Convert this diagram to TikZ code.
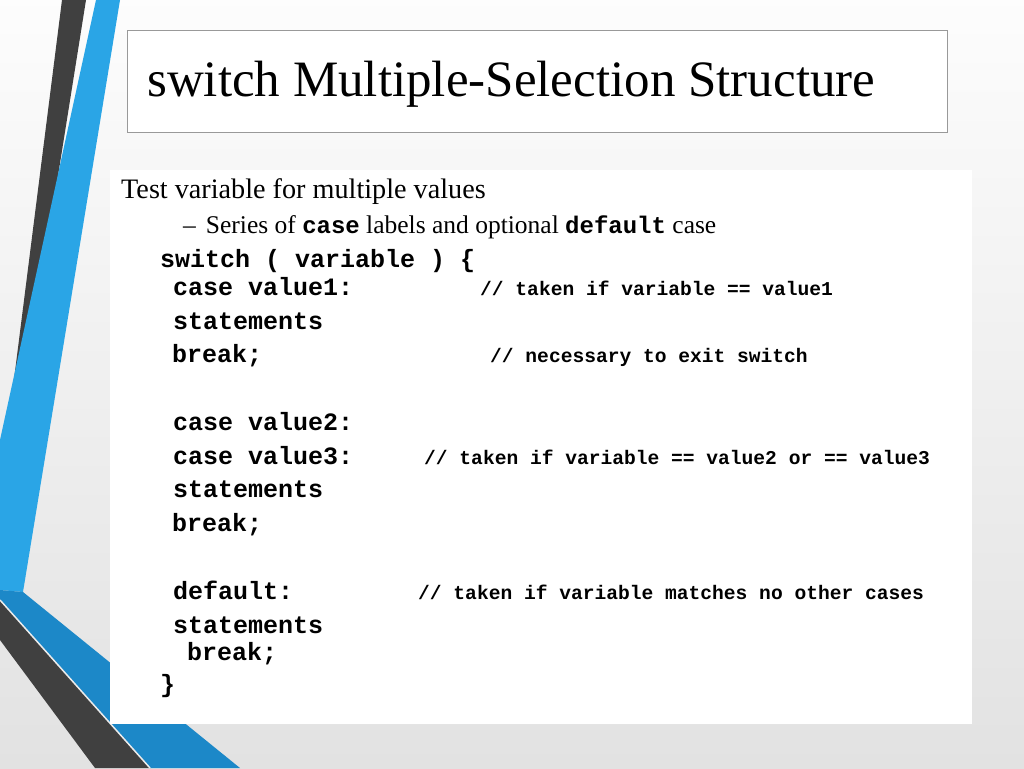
\documentclass[tikz,border=0pt]{standalone}
\usepackage{fontspec}
\setmainfont{Liberation Serif}
\setmonofont{Liberation Mono}
\begin{document}
\begin{tikzpicture}[x=1pt,y=-1pt,
  code/.style={anchor=base west,inner sep=0,font=\fontsize{25}{25}\selectfont\ttfamily\bfseries},
  cmt/.style={anchor=base west,inner sep=0,font=\fontsize{19.6}{20}\selectfont\ttfamily\bfseries},
  txt/.style={anchor=base west,inner sep=0,font=\fontsize{28.2}{28}\selectfont}]
\definecolor{bg}{HTML}{E2E2E2}
\definecolor{dk}{HTML}{404040}
\definecolor{bl}{HTML}{2AA5E6}
\definecolor{bl2}{HTML}{1C88C8}
\useasboundingbox (0,0) rectangle (1024,768);
\shade[top color=white!92!bg,bottom color=bg] (0,0) rectangle (1024,768);
% top stripes
\fill[dk] (62,0) -- (86,0) -- (0,540) -- (0,490) -- cycle;
\fill[bl] (96,0) -- (120,0) -- (23,592) -- (0,590) -- (0,440) -- cycle;
% bottom bands
\fill[bl2] (0,590) -- (23,592) -- (240,768) -- (150,768) -- (0,628) -- cycle;
\fill[dk] (0,600) -- (150,768) -- (95,768) -- (0,640) -- cycle;
\draw[white!85!gray,line width=1.5] (0,600) -- (150,768);
% boxes
\node[draw=gray!80,fill=white,line width=1,minimum width=820,minimum height=102,anchor=north west,inner sep=0] (title) at (127,30) {};
\node[anchor=base west,inner sep=0,font=\fontsize{51}{51}\selectfont] (tt) at (147,96) {switch Multiple-Selection Structure};
\node[fill=white,minimum width=862,minimum height=554,anchor=north west,inner sep=0] (body) at (110,170) {};
\node[txt] (l1) at (121,198) {Test variable for multiple values};
\node[txt,font=\fontsize{25.5}{25}\selectfont] (l2) at (183,233) {–\hspace{10pt}Series of {\ttfamily\bfseries\fontsize{24}{24}\selectfont case} labels and optional {\ttfamily\bfseries\fontsize{24}{24}\selectfont default} case};
\node[code] (c1) at (160,267) {switch ( variable ) \{};
\node[code] (c2) at (173,295) {case value1:};
\node[cmt] (m1) at (480,295) {// taken if variable == value1};
\node[code] (c3) at (173,329) {statements};
\node[code] (c4) at (172,362) {break;};
\node[cmt] (m2) at (490,362) {// necessary to exit switch};
\node[code] (c5) at (173,430) {case value2:};
\node[code] (c6) at (173,464) {case value3:};
\node[cmt] (m3) at (424,464) {// taken if variable == value2 or == value3};
\node[code] (c7) at (173,497) {statements};
\node[code] (c8) at (172,531) {break;};
\node[code] (c9) at (173,599) {default:};
\node[cmt] (m4) at (418,599) {// taken if variable matches no other cases};
\node[code] (c10) at (173,633) {statements};
\node[code] (c11) at (187,660) {break;};
\node[code] (c12) at (160,692) {\}};
\end{tikzpicture}
\end{document}
